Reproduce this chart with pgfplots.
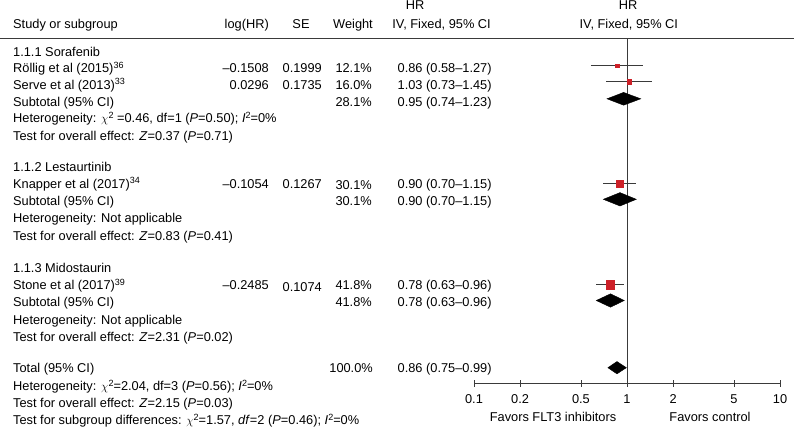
\documentclass[border=0pt]{standalone}
\usepackage{pgfplots}
\pgfplotsset{compat=1.18}
\usepackage{fontspec}
\setmainfont{Liberation Sans}
\definecolor{sqred}{HTML}{CD2028}
\definecolor{lngray}{HTML}{3A3A3A}
\newcommand{\sups}[1]{\raisebox{4.2pt}{\fontsize{9}{10}\selectfont #1}}
\newcommand{\tl}[3]{\node[anchor=base west,inner sep=0pt] at (#1pt,-#2pt) {#3};}
\newcommand{\tr}[3]{\node[anchor=base east,inner sep=0pt] at (#1pt,-#2pt) {#3};}
\newcommand{\tc}[3]{\node[anchor=base,inner sep=0pt] at (#1pt,-#2pt) {#3};}
\begin{document}
\begin{tikzpicture}[font=\fontsize{12.8}{15}\selectfont]
\useasboundingbox (0pt,0pt) rectangle (794pt,-431pt);
% header
\draw[lngray, line width=0.8pt] (0pt,-38pt) -- (794pt,-38pt);
\tl{13}{28.3}{Study or subgroup}
\tr{269}{28.3}{log(HR)}
\tc{301}{28.3}{SE}
\tr{373}{28.3}{Weight}
\tc{415}{9.3}{HR}
\tr{491}{28.3}{IV, Fixed, 95\% CI}
\tc{628}{9.3}{HR}
\tc{628.8}{28.3}{IV, Fixed, 95\% CI}
% group 1
\tl{13}{56}{1.1.1 Sorafenib}
\tl{13}{72.5}{Röllig et al (2015)\sups{36}}
\tr{269}{72.5}{–0.1508}\tr{322}{72.5}{0.1999}\tr{372}{72.5}{12.1\%}\tl{397.5}{72.5}{0.86 (0.58–1.27)}
\tl{13}{89}{Serve et al (2013)\sups{33}}
\tr{269}{89.5}{0.0296}\tr{322}{89}{0.1735}\tr{372}{89}{16.0\%}\tl{397.5}{89}{1.03 (0.73–1.45)}
\tl{13}{106}{Subtotal (95\% CI)}
\tr{372}{106}{28.1\%}\tl{397.5}{106}{0.95 (0.74–1.23)}
\tl{13}{122.5}{Heterogeneity: $\chi$\sups{2} =0.46, df=1 (\textit{P}=0.50); \textit{I}\sups{2}=0\%}
\tl{13}{140}{Test for overall effect: \textit{Z}=0.37 (\textit{P}=0.71)}
% group 2
\tl{13}{171}{1.1.2 Lestaurtinib}
\tl{13}{188}{Knapper et al (2017)\sups{34}}
\tr{269}{188}{–0.1054}\tr{322}{188}{0.1267}\tr{372}{189.5}{30.1\%}\tl{397.5}{188}{0.90 (0.70–1.15)}
\tl{13}{205}{Subtotal (95\% CI)}
\tr{372}{205}{30.1\%}\tl{397.5}{205}{0.90 (0.70–1.15)}
\tl{13}{222.5}{Heterogeneity: Not applicable}
\tl{13}{240}{Test for overall effect: \textit{Z}=0.83 (\textit{P}=0.41)}
% group 3
\tl{13}{272.6}{1.1.3 Midostaurin}
\tl{13}{289.5}{Stone et al (2017)\sups{39}}
\tr{269}{289.5}{–0.2485}\tr{322}{291}{0.1074}\tr{372}{289.5}{41.8\%}\tl{397.5}{289.5}{0.78 (0.63–0.96)}
\tl{13}{306.5}{Subtotal (95\% CI)}
\tr{372}{306.5}{41.8\%}\tl{397.5}{306.5}{0.78 (0.63–0.96)}
\tl{13}{324}{Heterogeneity: Not applicable}
\tl{13}{341}{Test for overall effect: \textit{Z}=2.31 (\textit{P}=0.02)}
% total
\tl{13}{372.6}{Total (95\% CI)}
\tr{373}{372.6}{100.0\%}\tl{397.5}{372.6}{0.86 (0.75–0.99)}
\tl{13}{390.3}{Heterogeneity: $\chi$\sups{2}=2.04, df=3 (\textit{P}=0.56); \textit{I}\sups{2}=0\%}
\tl{13}{407.6}{Test for overall effect: \textit{Z}=2.15 (\textit{P}=0.03)}
\tl{13}{424.3}{Test for subgroup differences: $\chi$\sups{2}=1.57, \textit{df}=2 (\textit{P}=0.46); \textit{I}\sups{2}=0\%}
\tc{553}{421}{Favors FLT3 inhibitors}
\tc{710}{421}{Favors control}
\begin{axis}[
  at={(474pt,-383pt)}, anchor=south west,
  scale only axis, width=306pt, height=345pt,
  xmode=log, xmin=0.1, xmax=10, ymin=-383, ymax=-38,
  axis y line=none, axis x line=bottom,
  x axis line style={-, draw=lngray, line width=0.8pt},
  every outer x axis line/.append style={-},
  xtick={0.1,0.2,0.5,1,2,5,10}, xticklabels={0.1,0.2,0.5,1,2,5,10},
  xminorticks=false,
  tick align=center, major tick length=7pt,
  every tick/.style={lngray, line width=0.8pt},
  xticklabel style={font=\fontsize{12.8}{15}\selectfont, anchor=north, inner sep=0pt, yshift=-8pt},
  clip=false,
]
% line of no effect
\addplot[lngray, line width=0.8pt] coordinates {(1,-38) (1,-383)};
% confidence intervals
\addplot[lngray, line width=0.8pt] coordinates {(0.58,-65.7) (1.27,-65.7)};
\addplot[lngray, line width=0.8pt] coordinates {(0.73,-81.7) (1.45,-81.7)};
\addplot[lngray, line width=0.8pt] coordinates {(0.70,-183.3) (1.15,-183.3)};
\addplot[lngray, line width=0.8pt] coordinates {(0.63,-284.7) (0.96,-284.7)};
% study squares (size ~ weight)
\addplot[only marks, mark=square*, mark size=1.8pt, color=sqred] coordinates {(0.86,-65.7)};
\addplot[only marks, mark=square*, mark size=2.1pt, color=sqred] coordinates {(1.03,-81.7)};
\addplot[only marks, mark=square*, mark size=3.4pt, color=sqred] coordinates {(0.90,-183.3)};
\addplot[only marks, mark=square*, mark size=4.1pt, color=sqred] coordinates {(0.78,-284.7)};
% pooled diamonds
\addplot[fill=black, draw=black] coordinates {(0.74,-98.8) (0.95,-92.4) (1.23,-98.8) (0.95,-105.2)} -- cycle;
\addplot[fill=black, draw=black] coordinates {(0.70,-199.3) (0.90,-192.6) (1.15,-199.3) (0.90,-206)} -- cycle;
\addplot[fill=black, draw=black] coordinates {(0.63,-300.5) (0.78,-293.8) (0.96,-300.5) (0.78,-307.2)} -- cycle;
\addplot[fill=black, draw=black] coordinates {(0.75,-367.7) (0.86,-361.5) (0.99,-367.7) (0.86,-373.9)} -- cycle;
\end{axis}
\end{tikzpicture}
\end{document}
